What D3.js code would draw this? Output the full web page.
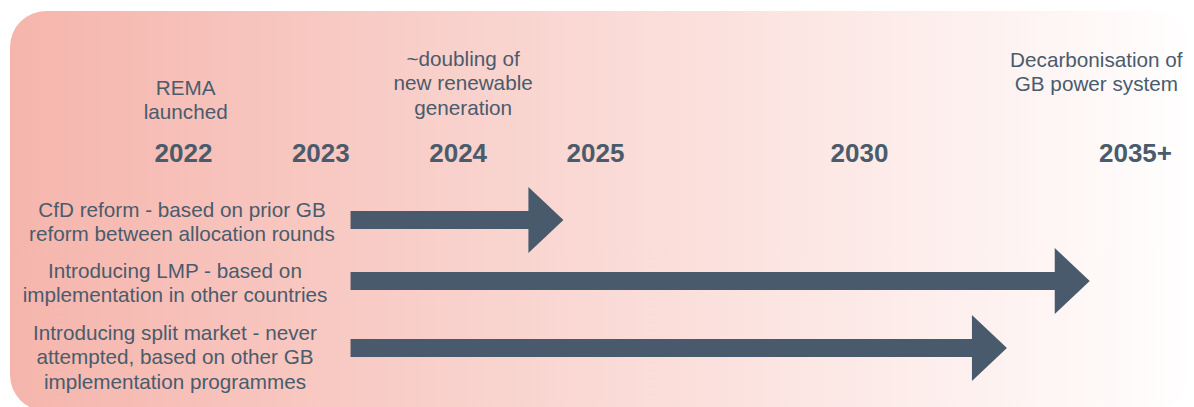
<!DOCTYPE html>
<html>
<head>
<meta charset="utf-8">
<script src="https://cdn.jsdelivr.net/npm/d3@7"></script>
<style>
  html, body { margin: 0; padding: 0; background: #ffffff; }
  svg { display: block; }
  text { font-family: "Liberation Sans", Arial, sans-serif; fill: #4a5b6c; }
</style>
</head>
<body>
<svg id="chart" width="1194" height="407"></svg>
<script>
// Timeline years shown along the top
const yearTicks = [2022, 2023, 2024, 2025, 2030, 2035];
const yearLabels = ["2022", "2023", "2024", "2025", "2030", "2035+"];

// Milestones written above the years
const milestoneYears = [2022.02, 2024.04, 2034.3];
const milestoneText = [
  ["REMA", "launched"],
  ["~doubling of", "new renewable", "generation"],
  ["Decarbonisation of", "GB power system"]
];

// Reform options and the period each is expected to take
const optionNames = ["cfd", "lmp", "split"];
const optionText = [
  ["CfD reform - based on prior GB", "reform between allocation rounds"],
  ["Introducing LMP - based on", "implementation in other countries"],
  ["Introducing split market - never", "attempted, based on other GB", "implementation programmes"]
];
const optionStart = [2023.22, 2023.22, 2023.22];
const optionEnd = [2024.77, 2034.18, 2032.68];

// ---- layout ----
const W = 1194, H = 407;
const svg = d3.select("#chart");
const defs = svg.append("defs");

const grad = defs.append("linearGradient")
  .attr("id", "bg").attr("x1", "0%").attr("x2", "100%").attr("y1", "0%").attr("y2", "0%");
grad.append("stop").attr("offset", "0%").attr("stop-color", "#f5b5ac");
grad.append("stop").attr("offset", "100%").attr("stop-color", "#fffefe");

svg.append("rect")
  .attr("x", 10).attr("y", 11)
  .attr("width", 1178).attr("height", 400)
  .attr("rx", 36).attr("ry", 36)
  .attr("fill", "url(#bg)");

// Piecewise time scale: the early years are spread wider than the later ones
const x = d3.scaleLinear()
  .domain([2022, 2025, 2030, 2035])
  .range([183, 595, 859, 1135]);

// Year axis
const yearAxis = d3.axisTop(x)
  .tickValues(yearTicks)
  .tickFormat((d, i) => yearLabels[i])
  .tickSize(0)
  .tickPadding(0);

const axisG = svg.append("g")
  .attr("transform", "translate(0,162)")
  .call(yearAxis);
axisG.select(".domain").remove();
axisG.selectAll("text")
  .attr("font-size", 26)
  .attr("font-weight", "bold")
  .attr("font-family", "Liberation Sans, Arial, sans-serif")
  .attr("fill", "#4a5b6c")
  .attr("dy", 0)
  .attr("text-anchor", "middle");

// Milestone notes (bottom line baseline per note)
const fontSize = 20.7;
const noteBase = [119, 114.5, 91];
const lineH = 24.3;
const notes = svg.append("g").selectAll("text")
  .data(milestoneText)
  .join("text")
  .attr("font-size", fontSize)
  .attr("text-anchor", "middle");
notes.each(function(lines, i) {
  const t = d3.select(this);
  const top = noteBase[i] - (lines.length - 1) * lineH;
  lines.forEach((ln, j) => {
    t.append("tspan")
      .attr("x", x(milestoneYears[i]))
      .attr("y", top + j * lineH)
      .text(ln);
  });
});

// Option rows
const rowY = d3.scaleOrdinal().domain(optionNames).range([220, 281, 348]);
const labelX = [182, 175, 175];
const labelFirstBase = [216.7, 277.5, 340];

const shaftH = 18, headHalf = 33, headLen = 35;
const arrowPath = (x0, x1, cy) => {
  const xb = x1 - headLen;
  return [
    [x0, cy - shaftH / 2], [xb, cy - shaftH / 2], [xb, cy - headHalf],
    [x1, cy], [xb, cy + headHalf], [xb, cy + shaftH / 2], [x0, cy + shaftH / 2]
  ];
};
const line = d3.line();

const rows = svg.append("g").selectAll("g")
  .data(optionNames)
  .join("g");

rows.append("path")
  .attr("d", (d, i) => line(arrowPath(x(optionStart[i]), x(optionEnd[i]), rowY(d))) + "Z")
  .attr("fill", "#485a6b");

rows.append("text")
  .attr("font-size", fontSize)
  .attr("text-anchor", "middle")
  .each(function(d, i) {
    const t = d3.select(this);
    optionText[i].forEach((ln, j) => {
      t.append("tspan")
        .attr("x", labelX[i])
        .attr("y", labelFirstBase[i] + j * lineH)
        .text(ln);
    });
  });
</script>
</body>
</html>
